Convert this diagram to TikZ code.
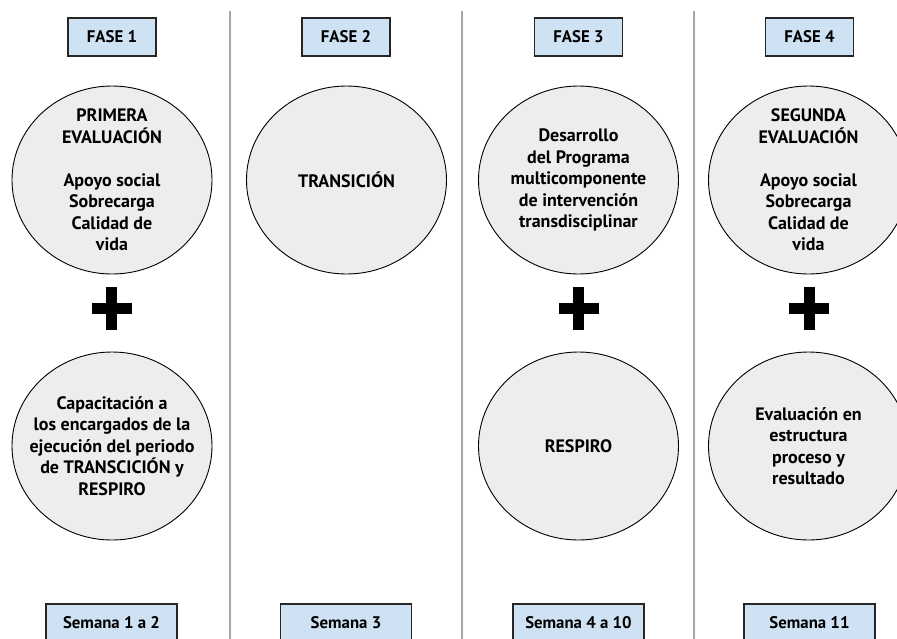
\documentclass[tikz,border=0pt]{standalone}
\usepackage{fontspec}
\setmainfont{PT Sans}
\usepackage{xcolor}
\usetikzlibrary{shapes.geometric}
\definecolor{cajaazul}{HTML}{CFE2F3}
\definecolor{circgris}{HTML}{EDEDED}
\definecolor{lineagris}{HTML}{A6A6A6}
\tikzset{
  fase/.style={draw=black!85, fill=cajaazul, line width=1.1pt, minimum width=88pt,
    minimum height=38pt, font=\fontsize{16.8}{20}\selectfont\bfseries},
  semana/.style={fase, minimum width=131pt},
  etapa/.style={ellipse, draw, fill=circgris, line width=0.9pt, minimum width=200pt,
    minimum height=188pt, inner sep=-24pt, align=center,
    font=\fontsize{18}{21.5}\selectfont\bfseries},
}

\begin{document}
\begin{tikzpicture}[x=1pt,y=-1pt]
      \useasboundingbox (0,0) rectangle (897,638);
      \clip (0,0) rectangle (897,638);
      % separadores
      \foreach \x in {230,462,694}
        \draw[lineagris, line width=1.2pt] (\x,11) -- (\x,640);
      % fases
      \node[fase] (f1) at (112,37) {FASE 1};
      \node[fase] (f2) at (346,37) {FASE 2};
      \node[fase] (f3) at (578.5,37) {FASE 3};
      \node[fase] (f4) at (809.5,37) {FASE 4};
      % etapas de arriba
      \node[etapa] (ev1) at (112,180) {PRIMERA\\EVALUACIÓN\\[21.5pt]Apoyo social\\Sobrecarga\\Calidad de\\vida};
      \node[etapa] (tr) at (346.5,180) {TRANSICIÓN};
      \node[etapa] (des) at (578.5,180) {Desarrollo\\del Programa\\multicomponente\\de intervención\\transdisciplinar};
      \node[etapa] (ev2) at (808.5,180) {SEGUNDA\\EVALUACIÓN\\[21.5pt]Apoyo social\\Sobrecarga\\Calidad de\\vida};
      % signos mas
      \coordinate (mas1) at (111.5,308.5);
      \coordinate (mas3) at (578.5,308.5);
      \coordinate (mas4) at (809,308.5);
      \foreach \m in {mas1,mas3,mas4} {
        \fill ([shift={(-20,-5.5)}]\m) rectangle ([shift={(20,5.5)}]\m);
        \fill ([shift={(-5.5,-21.5)}]\m) rectangle ([shift={(5.5,21.5)}]\m);
      }
      % etapas de abajo
      \node[etapa] (cap) at (112,446) {Capacitación a\\los encargados de la\\ejecución del periodo\\de TRANSCICIÓN y\\RESPIRO};
      \node[etapa] (resp) at (578.5,446) {RESPIRO};
      \node[etapa] (eval) at (808.5,446) {Evaluación en\\estructura\\proceso y\\resultado};
      % semanas
      \node[semana] (s1) at (111.5,623) {Semana 1 a 2};
      \node[semana] (s2) at (346,623) {Semana 3};
      \node[semana] (s3) at (578.5,623) {Semana 4 a 10};
      \node[semana] (s4) at (809.5,623) {Semana 11};
    \end{tikzpicture}
\end{document}
